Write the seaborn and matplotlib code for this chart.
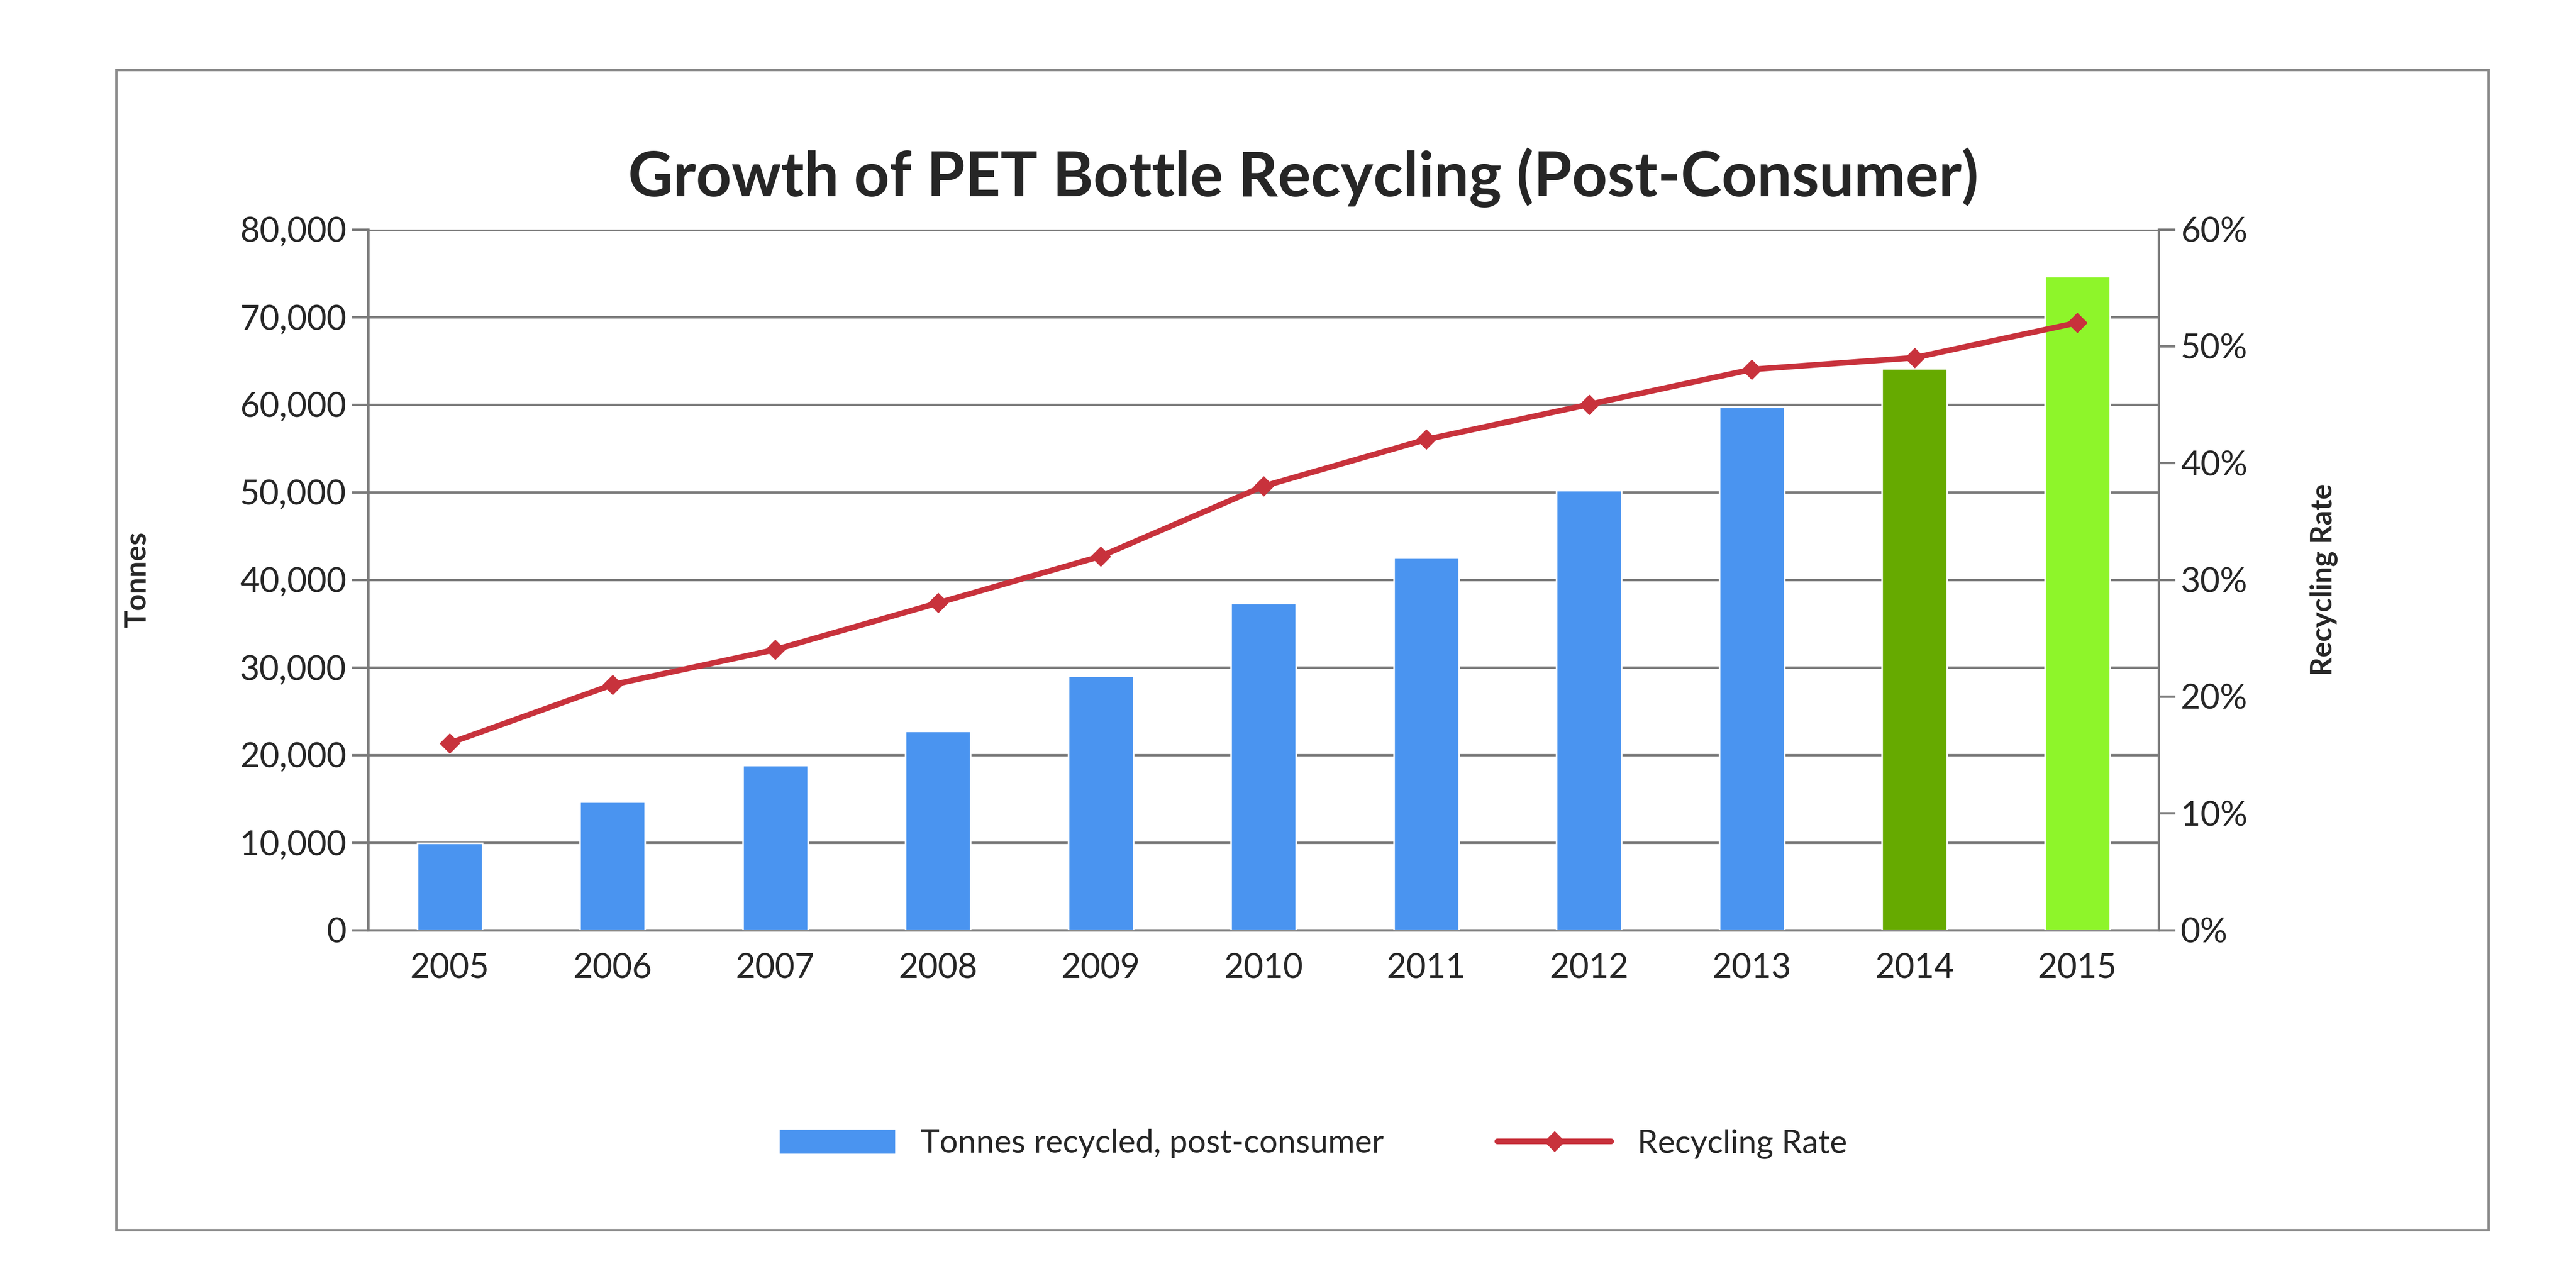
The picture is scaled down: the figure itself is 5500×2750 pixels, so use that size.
import numpy as np
import pandas as pd
import seaborn as sns
import matplotlib.pyplot as plt
from matplotlib.patches import Rectangle, Patch
from matplotlib.lines import Line2D

years = ['2005', '2006', '2007', '2008', '2009', '2010', '2011', '2012', '2013', '2014', '2015']
tonnes = [9900, 14600, 18800, 22700, 29000, 37300, 42500, 50200, 59700, 64100, 74600]
rate = [16, 21, 24, 28, 32, 38, 42, 45, 48, 49, 52]
bar_colors = ['#4a94f0'] * 9 + ['#66aa00', '#8ef52a']

sns.set_style('white')
plt.rcParams['font.family'] = ['Lato', 'DejaVu Sans']

df = pd.DataFrame({'year': years, 'tonnes': tonnes, 'rate': rate})

fig = plt.figure(figsize=(22, 11), dpi=250)
ax = fig.add_axes([0.143, 0.278, 0.695, 0.544])
sns.barplot(data=df, x='year', y='tonnes', hue='year', palette=bar_colors,
            width=0.4, saturation=1, legend=False, ax=ax, zorder=3)
ax.set_ylim(0, 80000)
ax.set_xlim(-0.5, len(years) - 0.5)
ax.set_yticks(np.arange(0, 80001, 10000))
ax.set_yticklabels([f'{v:,}' for v in range(0, 80001, 10000)])
ax.yaxis.grid(True, color='#7a7a7a', lw=1.5, zorder=0)
ax.set_axisbelow(True)
ax.set_xlabel('')
ax.set_ylabel('Tonnes', fontsize=18, fontweight='bold', labelpad=55)
ax.set_xticks(np.arange(len(years)))
ax.set_xticklabels(years)
ax.set_xticks(np.arange(-0.5, len(years)), minor=True)
ax.tick_params(axis='x', which='major', length=0, pad=14, labelsize=21)
ax.tick_params(axis='x', which='minor', length=14, width=1.5, color='#7a7a7a')
ax.tick_params(axis='y', length=10, width=1.5, color='#7a7a7a', labelsize=21)
for s in ax.spines.values():
    s.set_color('#7a7a7a')
    s.set_linewidth(1.5)
ax.spines['top'].set_visible(False)

ax2 = ax.twinx()
sns.lineplot(x=np.arange(len(years)), y=rate, ax=ax2, color='#c8323c', lw=3.5,
             marker='D', markersize=8, markeredgecolor='#c8323c', zorder=5)
ax2.set_ylim(0, 60)
ax2.set_yticks(np.arange(0, 61, 10))
ax2.set_yticklabels([f'{v}%' for v in range(0, 61, 10)])
ax2.set_ylabel('Recycling Rate', fontsize=18, fontweight='bold', labelpad=38)
ax2.tick_params(axis='y', length=10, width=1.5, color='#7a7a7a', labelsize=21)
for s in ax2.spines.values():
    s.set_visible(False)

fig.text(0.506, 0.862, 'Growth of PET Bottle Recycling (Post-Consumer)',
         ha='center', va='center', fontsize=38, fontweight='bold')

handles = [Patch(color='#4a94f0', label='Tonnes recycled, post-consumer'),
           Line2D([], [], color='#c8323c', lw=3.5, marker='D', markersize=8,
                  label='Recycling Rate')]
fig.legend(handles=handles, loc='center', bbox_to_anchor=(0.51, 0.112), ncol=2,
           frameon=False, fontsize=20, handlelength=3.5, columnspacing=3.5)

fig.add_artist(Rectangle((0.045, 0.045), 0.921, 0.901, transform=fig.transFigure,
                         fill=False, edgecolor='#8c8c8c', lw=1.5))

fig.savefig('out.png', dpi=250)
